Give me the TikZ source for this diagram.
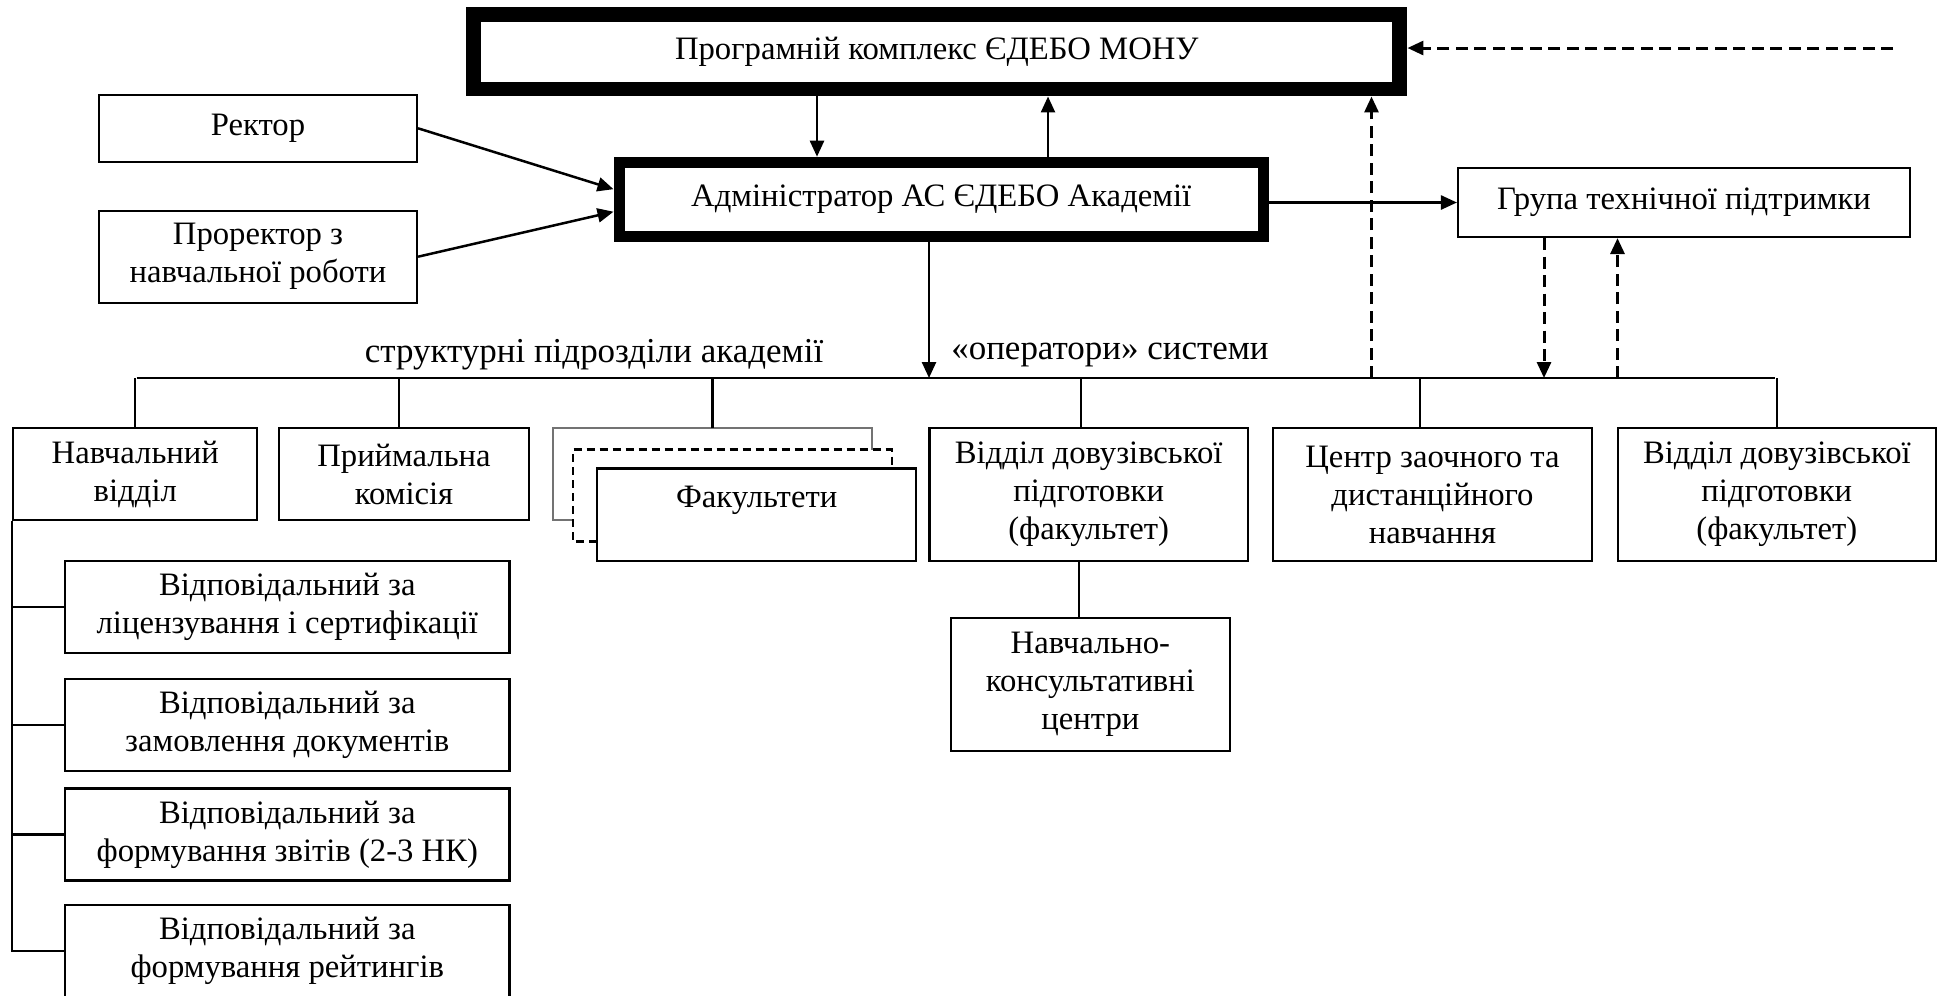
\documentclass[tikz,border=0pt]{standalone}
\usepackage{fontspec}
\setmainfont{Liberation Serif}
\usetikzlibrary{arrows.meta,calc}
\begin{document}
\begin{tikzpicture}[x=0.02cm,y=-0.02cm,
  txt/.style={font=\fontsize{18.6}{21.6}\selectfont, align=center, inner sep=0pt},
  lbl/.style={font=\fontsize{19.9}{23}\selectfont, align=center, inner sep=0pt},
  box/.style={txt, draw, line width=0.044cm, fill=white},
  thickbox/.style={txt, draw, fill=white},
  ln/.style={line width=0.044cm},
  arr/.style={line width=0.05cm, -{Triangle[length=0.32cm,width=0.28cm]}},
  dasharr/.style={line width=0.06cm, dash pattern=on 0.24cm off 0.13cm, -{Triangle[length=0.32cm,width=0.28cm]}},
]
\useasboundingbox (0,0) rectangle (1940,995);

% top level
\node[thickbox, line width=0.3cm, minimum width=18.53cm, minimum height=1.5cm] (top) at (936.8,51.5) {Програмній комплекс ЄДЕБО МОНУ};
\node[thickbox, line width=0.22cm, minimum width=12.89cm, minimum height=1.48cm] (admin) at (941.2,199.2) {Адміністратор АС ЄДЕБО Академії};
\node[box, minimum width=6.36cm, minimum height=1.34cm] (rect) at (258,128.3) {Ректор};
\node[box, minimum width=6.36cm, minimum height=1.84cm] (pro) at (258,256.7) {Проректор з\\навчальної роботи};
\node[box, minimum width=9.04cm, minimum height=1.38cm] (grp) at (1684,202.5) {Група технічної підтримки};

% labels on bus
\node[lbl] (lblL) at (594,355) {структурні підрозділи академії};
\node[lbl] (lblR) at (1110,355) {«оператори» системи};

% row of units
\node[box, minimum width=4.88cm, minimum height=1.84cm] (nav) at (135.3,474) {Навчальний\\відділ};
\node[box, minimum width=5.01cm, minimum height=1.84cm] (pri) at (404,474) {Приймальна\\комісія};
\node[inner sep=0pt, outer sep=0pt, minimum width=6.37cm, minimum height=1.84cm] (fb) at (712.5,474.2) {};
\node[inner sep=0pt, outer sep=0pt, minimum width=6.38cm, minimum height=1.84cm] (fm) at (732.2,495.5) {};
\node[box, outer sep=0pt, minimum width=6.38cm, minimum height=1.85cm] (ff) at (756.2,514.7) {};
\node[txt] (fft) at (756.7,500) {Факультети};
\node[box, minimum width=6.37cm, minimum height=2.65cm] (vid1) at (1088.7,494.5) {Відділ довузівської\\підготовки\\(факультет)};
\node[box, minimum width=6.37cm, minimum height=2.65cm] (cen) at (1432.5,494.5) {Центр заочного та\\дистанційного\\навчання};
\node[box, minimum width=6.37cm, minimum height=2.65cm] (vid2) at (1776.8,494.5) {Відділ довузівської\\підготовки\\(факультет)};
\node[box, minimum width=5.59cm, minimum height=2.66cm] (nk) at (1090.4,684.2) {Навчально-\\консультативні\\центри};

% sub-boxes of Навчальний відділ
\node[box, minimum width=8.89cm, minimum height=1.84cm] (s1) at (287.3,606.7) {Відповідальний за\\ліцензування і сертифікації};
\node[box, minimum width=8.89cm, minimum height=1.84cm] (s2) at (287.3,724.9) {Відповідальний за\\замовлення документів};
\node[box, minimum width=8.89cm, minimum height=1.84cm] (s3) at (287.3,834.5) {Відповідальний за\\формування звітів (2-3 НК)};
\node[box, minimum width=8.89cm, minimum height=1.84cm] (s4) at (287.3,951) {Відповідальний за\\формування рейтингів};

% Факультети stacked outlines
\draw[ln, draw=black!55] (fm.west |- fb.south) -- (fb.south west) -- (fb.north west) -- (fb.north east) -- (fb.east |- fm.north);
\draw[ln, dash pattern=on 0.16cm off 0.1cm] (ff.west |- fm.south) -- (fm.south west) -- (fm.north west) -- (fm.north east) -- (fm.east |- ff.north);

% coordinates
\coordinate (busL) at (136.7,378);
\coordinate (busR) at (1775,378);
\coordinate (a1) at (817,0);
\coordinate (a2) at (1048,0);
\coordinate (a3) at (929,378);
\coordinate (ext) at (1893,48);
\coordinate (d1) at (1371.5,378);
\coordinate (d2) at (1544,378);
\coordinate (d3) at (1617.5,378);
\coordinate (dp) at (399,378);
\coordinate (dv1) at (1081,378);
\coordinate (dc) at (1420,378);
\coordinate (nkx) at (1079.3,600);

% arrows between top and admin
\draw[arr] (a1 |- top.south) -- (a1 |- admin.north);
\draw[arr] (a2 |- admin.north) -- (a2 |- top.south);
\draw[dasharr] (ext) -- (ext -| top.east);
\draw[arr] (rect.east) -- ($(admin.west)+(0,-10)$);
\draw[arr] (pro.east) -- ($(admin.west)+(0,12.5)$);
\draw[arr] (admin.east |- grp.west) -- (grp.west);
\draw[arr] (a3 |- admin.south) -- (a3);

% bus
\draw[ln] (busL) -- (busR);
\draw[ln] (nav.north) -- (nav.north |- busL);
\draw[ln] (dp |- pri.north) -- (dp);
\draw[ln] (fb.north) -- (fb.north |- busL);
\draw[ln] (dv1 |- vid1.north) -- (dv1);
\draw[ln] (dc |- cen.north) -- (dc);
\draw[ln] (vid2.north) -- (vid2.north |- busR);

% dashed feedback arrows
\draw[dasharr] (d1) -- (d1 |- top.south);
\draw[dasharr] (d2 |- grp.south) -- (d2);
\draw[dasharr] (d3) -- (d3 |- grp.south);

% Навчально-консультативні
\draw[ln] (nkx |- vid1.south) -- (nkx |- nk.north);

% spine of Навчальний відділ
\draw[ln] (nav.south west) -- (nav.south west |- s4.west) -- (s4.west);
\draw[ln] (nav.south west |- s1.west) -- (s1.west);
\draw[ln] (nav.south west |- s2.west) -- (s2.west);
\draw[ln] (nav.south west |- s3.west) -- (s3.west);
\end{tikzpicture}
\end{document}
